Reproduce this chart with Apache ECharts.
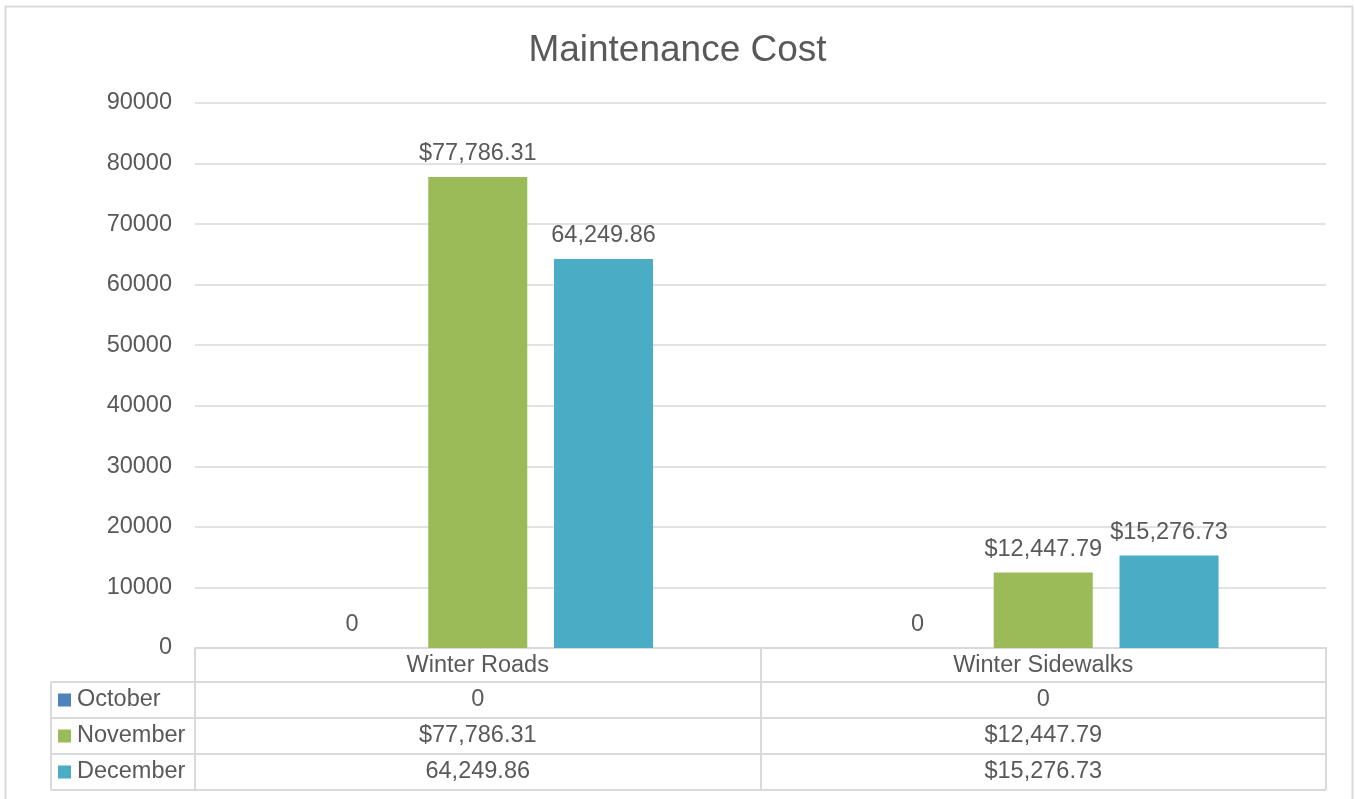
<!DOCTYPE html>
<html>
<head>
<meta charset="utf-8">
<title>Maintenance Cost</title>
<script src="https://cdn.jsdelivr.net/npm/echarts@6/dist/echarts.min.js"></script>
<style>
  html, body { margin: 0; padding: 0; background: #fff; }
  #chart { width: 1355px; height: 799px; }
</style>
</head>
<body>
<div id="chart"></div>
<script>
// data
const categories = ['Winter Roads', 'Winter Sidewalks'];
const months = ['October', 'November', 'December'];
const octValues = [0, 0];
const novValues = [77786.31, 12447.79];
const decValues = [64249.86, 15276.73];
// labels as shown in the sheet (formatting is not consistent there)
const octLabels = ['0', '0'];
const novLabels = ['$77,786.31', '$12,447.79'];
const decLabels = ['64,249.86', '$15,276.73'];
const yMin = 0, yMax = 90000, yStep = 10000;

const colors = ['#4F81BD', '#9BBB59', '#4BACC6'];
const TEXT = '#595959';
const LINE = '#d9d9d9';
const FONT = '"Liberation Sans", Arial, sans-serif';
const FS = 23.5;

const W = 1355, H = 799;
const grid = { left: 195, right: 29, top: 103, bottom: 151 };
const axisY = H - grid.bottom;        // 648
const rowY = [682, 718, 754, 790];    // table row lines
const tableLeft = 51;
const tableRight = W - grid.right;

const chart = echarts.init(document.getElementById('chart'));

const seriesVals = [octValues, novValues, decValues];
const seriesLabels = [octLabels, novLabels, decLabels];

// data table under the plot
function tableGraphics() {
  const g = [];
  const line = (x1, y1, x2, y2) => g.push({
    type: 'line', shape: { x1, y1, x2, y2 },
    style: { stroke: LINE, lineWidth: 2 }, silent: true
  });
  rowY.forEach(y => line(tableLeft, y, tableRight, y));
  line(tableLeft, rowY[0], tableLeft, rowY[rowY.length - 1]);

  const cellW = (tableRight - grid.left) / categories.length;
  months.forEach((m, r) => {
    const cy = (rowY[r] + rowY[r + 1]) / 2;
    g.push({
      type: 'rect', shape: { x: 58, y: cy - 6.5, width: 13, height: 13 },
      style: { fill: colors[r] }, silent: true
    });
    g.push({
      type: 'text', x: 77, y: cy,
      style: { text: m, fill: TEXT, font: FS + 'px ' + FONT, verticalAlign: 'middle', align: 'left' },
      silent: true
    });
    categories.forEach((c, i) => {
      g.push({
        type: 'text', x: grid.left + (i + 0.5) * cellW, y: cy,
        style: { text: seriesLabels[r][i], fill: TEXT, font: FS + 'px ' + FONT, align: 'center', verticalAlign: 'middle' },
        silent: true
      });
    });
  });
  // outer chart border
  g.push({
    type: 'rect', shape: { x: 5.5, y: 6.5, width: 1347, height: 800 },
    style: { fill: 'none', stroke: LINE, lineWidth: 2 }, silent: true, z: -1
  });
  return g;
}

chart.setOption({
  backgroundColor: '#fff',
  animation: false,
  textStyle: { fontFamily: FONT },
  title: {
    text: 'Maintenance Cost', left: 'center', top: 27,
    textStyle: { fontSize: 37, fontWeight: 'normal', color: TEXT, fontFamily: FONT }
  },
  grid: grid,
  xAxis: {
    type: 'category', data: categories,
    axisLine: { lineStyle: { color: LINE, width: 2 } },
    axisTick: { show: true, alignWithLabel: false, interval: 0, length: rowY[rowY.length - 1] - axisY, lineStyle: { color: LINE, width: 2 } },
    axisLabel: { color: TEXT, fontSize: FS, margin: 6, interval: 0 }
  },
  yAxis: {
    type: 'value', min: yMin, max: yMax, interval: yStep,
    axisLine: { show: false }, axisTick: { show: false },
    axisLabel: { color: TEXT, fontSize: FS, margin: 23, formatter: v => String(v) },
    splitLine: { lineStyle: { color: LINE, width: 1.5 } }
  },
  series: months.map((m, r) => ({
    name: m, type: 'bar', data: seriesVals[r],
    barCategoryGap: '38%', barGap: '27%',
    itemStyle: { color: colors[r] },
    label: {
      show: true, position: 'top', distance: 11,
      color: TEXT, fontSize: FS,
      formatter: p => seriesLabels[r][p.dataIndex]
    }
  })),
  graphic: tableGraphics()
});
</script>
</body>
</html>
